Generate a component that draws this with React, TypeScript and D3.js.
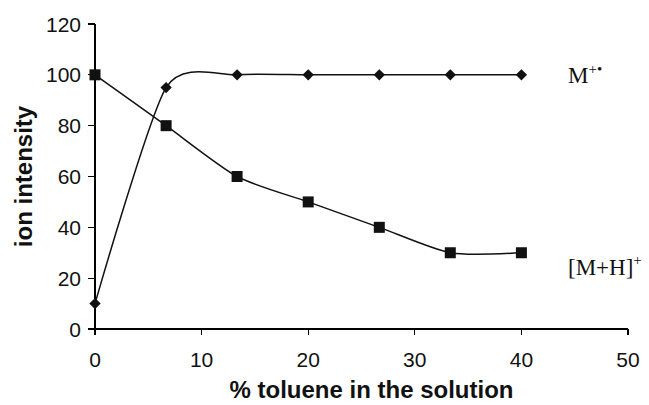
import React from 'react';
import * as d3 from 'd3';

const toluene = [0, 6.67, 13.33, 20, 26.67, 33.33, 40];
const radicalCation = [10, 95, 100, 100, 100, 100, 100];
const protonated = [100, 80, 60, 50, 40, 30, 30];
const xTicks = [0, 10, 20, 30, 40, 50];
const yTicks = [0, 20, 40, 60, 80, 100, 120];

const W = 649;
const H = 405;
const sans = '"Liberation Sans", Arial, sans-serif';
const serif = '"Liberation Serif", "Times New Roman", serif';

export default function App() {
  const x = d3.scaleLinear().domain([0, 50]).range([95, 628]);
  const y = d3.scaleLinear().domain([0, 120]).range([329, 24]);

  const line = d3
    .line<number>()
    .x((_, i) => x(toluene[i]))
    .curve(d3.curveCardinal.tension(0.3));

  const mLine = line.y(d => y(d))(radicalCation) as string;
  const mhLine = line.y(d => y(d))(protonated) as string;

  // square marker turned 45 degrees
  const diamond = d3.symbol().type(d3.symbolSquare).size(64)() as string;

  return (
    <svg
      width={W}
      height={H}
      style={{ position: 'absolute', left: 0, top: 0, background: '#fff' }}
    >
      {/* axes */}
      <g stroke="#000" strokeWidth={1.2} shapeRendering="crispEdges">
        <line x1={x(0)} x2={x(0)} y1={y(120)} y2={y(0)} />
        <line x1={x(0)} x2={x(50)} y1={y(0)} y2={y(0)} />
        {yTicks.map(t => (
          <line key={'y' + t} x1={x(0) - 7} x2={x(0)} y1={y(t)} y2={y(t)} />
        ))}
        {xTicks.map(t => (
          <line key={'x' + t} x1={x(t)} x2={x(t)} y1={y(0)} y2={y(0) + 6} />
        ))}
      </g>
      <g fontFamily={sans} fontSize={21} fill="#111">
        {yTicks.map(t => (
          <text key={t} x={x(0) - 14} y={y(t)} dy="0.36em" textAnchor="end">
            {t}
          </text>
        ))}
        {xTicks.map(t => (
          <text key={t} x={x(t)} y={367} textAnchor="middle">
            {t}
          </text>
        ))}
      </g>
      <text
        x={(x(0) + x(50)) / 2 + 10}
        y={398}
        textAnchor="middle"
        fontFamily={sans}
        fontWeight="bold"
        fontSize={24}
        fill="#111"
      >
        % toluene in the solution
      </text>
      <text
        transform={`translate(32,${(y(0) + y(120)) / 2}) rotate(-90)`}
        textAnchor="middle"
        fontFamily={sans}
        fontWeight="bold"
        fontSize={24}
        fill="#111"
      >
        ion intensity
      </text>

      {/* series */}
      <path d={mLine} fill="none" stroke="#111" strokeWidth={1.5} />
      <path d={mhLine} fill="none" stroke="#111" strokeWidth={1.5} />
      {radicalCation.map((v, i) => (
        <path
          key={'d' + i}
          d={diamond}
          transform={`translate(${x(toluene[i])},${y(v)}) rotate(45)`}
          fill="#111"
        />
      ))}
      {protonated.map((v, i) => (
        <rect
          key={'s' + i}
          x={x(toluene[i]) - 5.5}
          y={y(v) - 5.5}
          width={11}
          height={11}
          fill="#111"
        />
      ))}

      {/* series labels */}
      <text x={568} y={83} fontFamily={serif} fontSize={23} fill="#111">
        M
        <tspan dy={-9} fontSize={15}>
          +•
        </tspan>
      </text>
      <text x={568} y={275} fontFamily={serif} fontSize={23} fill="#111">
        [M+H]
        <tspan dy={-10} fontSize={15}>
          +
        </tspan>
      </text>
    </svg>
  );
}
